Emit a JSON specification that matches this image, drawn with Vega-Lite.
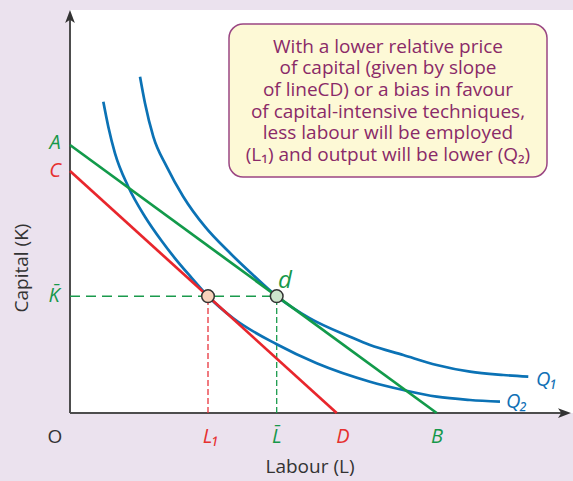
{
  "$schema": "https://vega.github.io/schema/vega-lite/v6.json",
  "width": 503,
  "height": 403,
  "autosize": "none",
  "padding": {"left": 70, "top": 10, "right": 0, "bottom": 68},
  "background": "#ebe2ee",
  "config": {
    "view": {"fill": "white", "stroke": null},
    "font": "Open Sans",
    "axis": {"disable": true}
  },
  "datasets": {
    "curves": [
      {"s": "Q1", "X": 70, "Y": 336.3}, {"s": "Q1", "X": 75, "Y": 309.7}, {"s": "Q1", "X": 83.3, "Y": 276.3},
      {"s": "Q1", "X": 96.7, "Y": 246.3}, {"s": "Q1", "X": 113.3, "Y": 216.3}, {"s": "Q1", "X": 135, "Y": 186.3},
      {"s": "Q1", "X": 161, "Y": 159}, {"s": "Q1", "X": 182, "Y": 139}, {"s": "Q1", "X": 206.7, "Y": 116.8},
      {"s": "Q1", "X": 240, "Y": 94.7}, {"s": "Q1", "X": 280, "Y": 76.3}, {"s": "Q1", "X": 300, "Y": 68},
      {"s": "Q1", "X": 333.3, "Y": 58}, {"s": "Q1", "X": 366.7, "Y": 48}, {"s": "Q1", "X": 400, "Y": 41.3},
      {"s": "Q1", "X": 433.3, "Y": 38}, {"s": "Q1", "X": 458.3, "Y": 36.3},
      {"s": "Q2", "X": 33.3, "Y": 311.3}, {"s": "Q2", "X": 38.3, "Y": 286.3}, {"s": "Q2", "X": 45, "Y": 259.7},
      {"s": "Q2", "X": 58.3, "Y": 226.3}, {"s": "Q2", "X": 75, "Y": 196.3}, {"s": "Q2", "X": 91.7, "Y": 172},
      {"s": "Q2", "X": 105, "Y": 154.7}, {"s": "Q2", "X": 120, "Y": 137}, {"s": "Q2", "X": 138, "Y": 116.8},
      {"s": "Q2", "X": 163.3, "Y": 94.7}, {"s": "Q2", "X": 206.7, "Y": 68.7}, {"s": "Q2", "X": 246.7, "Y": 49.7},
      {"s": "Q2", "X": 300, "Y": 31.3}, {"s": "Q2", "X": 333.3, "Y": 23}, {"s": "Q2", "X": 366.7, "Y": 16.3},
      {"s": "Q2", "X": 400, "Y": 13}, {"s": "Q2", "X": 430, "Y": 11.3},
      {"s": "AB", "X": 0, "Y": 268}, {"s": "AB", "X": 366.7, "Y": 0},
      {"s": "CD", "X": 0, "Y": 242}, {"s": "CD", "X": 266.7, "Y": 0}
    ],
    "guides": [
      {"g": "K", "X": 0, "Y": 116.8, "X2": 206.7, "Y2": 116.8},
      {"g": "Lbar", "X": 206.7, "Y": 0, "X2": 206.7, "Y2": 116.8},
      {"g": "L1", "X": 138, "Y": 0, "X2": 138, "Y2": 116.8}
    ],
    "axes": [
      {"X": 0, "Y": 0, "X2": 495, "Y2": 0},
      {"X": 0, "Y": 0, "X2": 0, "Y2": 397}
    ],
    "arrows": [
      {"dir": "right", "X": 494.5, "Y": 0},
      {"dir": "up", "X": 0, "Y": 396.5}
    ],
    "pts": [
      {"p": "L1", "X": 138, "Y": 116.8},
      {"p": "d", "X": 206.7, "Y": 116.8}
    ],
    "box": [
      {"X": 159, "X2": 477, "Y": 389, "Y2": 236, "t": "With a lower relative price\nof capital (given by slope\nof lineCD) or a bias in favour\nof capital-intensive techniques,\nless labour will be employed\n(L₁) and output will be lower (Q₂)", "TX": 318, "TY": 366.3}
    ],
    "labels": [
      {"t": "A", "X": -15, "Y": 270, "k": "g"},
      {"t": "K̄", "X": -16, "Y": 117, "k": "g"},
      {"t": "L̄", "X": 206.7, "Y": -24, "k": "g"},
      {"t": "B", "X": 367, "Y": -24, "k": "g"},
      {"t": "C", "X": -15, "Y": 242, "k": "r"},
      {"t": "L₁", "X": 141, "Y": -24, "k": "r"},
      {"t": "D", "X": 273, "Y": -24, "k": "r"},
      {"t": "d", "X": 215, "Y": 132, "k": "d"},
      {"t": "Q₁", "X": 466, "Y": 33, "k": "b"},
      {"t": "Q₂", "X": 436, "Y": 11, "k": "b"},
      {"t": "O", "X": -15, "Y": -24, "k": "k"},
      {"t": "Labour (L)", "X": 240, "Y": -54, "k": "k"},
      {"t": "Capital (K)", "X": -48, "Y": 145, "k": "cap"}
    ]
  },
  "encoding": {
    "x": {"field": "X", "type": "quantitative", "scale": {"domain": [0, 503], "nice": false, "zero": false}, "axis": null},
    "y": {"field": "Y", "type": "quantitative", "scale": {"domain": [0, 403], "nice": false, "zero": false}, "axis": null}
  },
  "layer": [
    {
      "data": {"name": "box"},
      "mark": {"type": "rect", "fill": "#fdf9d6", "stroke": "#9a4683", "strokeWidth": 1.5, "cornerRadius": 14},
      "encoding": {"x2": {"field": "X2"}, "y2": {"field": "Y2"}}
    },
    {
      "data": {"name": "box"},
      "mark": {"type": "text", "lineBreak": "\n", "lineHeight": 21.7, "fontSize": 19, "color": "#8a2a68", "align": "center", "baseline": "middle"},
      "encoding": {"x": {"field": "TX", "type": "quantitative"}, "y": {"field": "TY", "type": "quantitative"}, "text": {"field": "t"}}
    },
    {
      "data": {"name": "axes"},
      "mark": {"type": "rule", "color": "#4d4d4d", "strokeWidth": 2},
      "encoding": {"x2": {"field": "X2"}, "y2": {"field": "Y2"}}
    },
    {
      "data": {"name": "arrows"},
      "transform": [{"filter": "datum.dir === 'right'"}],
      "mark": {"type": "point", "shape": "M1,0L-1,-0.75L-0.5,0L-1,0.75Z", "filled": true, "color": "#333333", "size": 169, "opacity": 1}
    },
    {
      "data": {"name": "arrows"},
      "transform": [{"filter": "datum.dir === 'up'"}],
      "mark": {"type": "point", "shape": "M0,-1L-0.75,1L0,0.5L0.75,1Z", "filled": true, "color": "#333333", "size": 169, "opacity": 1}
    },
    {
      "data": {"name": "guides"},
      "transform": [{"filter": "datum.g === 'K'"}],
      "mark": {"type": "rule", "color": "#1a9a4c", "strokeWidth": 1.5, "strokeDash": [10, 6]},
      "encoding": {"x2": {"field": "X2"}, "y2": {"field": "Y2"}}
    },
    {
      "data": {"name": "guides"},
      "transform": [{"filter": "datum.g === 'Lbar'"}],
      "mark": {"type": "rule", "color": "#1a9a4c", "strokeWidth": 1.3, "strokeDash": [6, 3]},
      "encoding": {"x2": {"field": "X2"}, "y2": {"field": "Y2"}}
    },
    {
      "data": {"name": "guides"},
      "transform": [{"filter": "datum.g === 'L1'"}],
      "mark": {"type": "rule", "color": "#e8343c", "strokeWidth": 1.3, "strokeDash": [6, 3]},
      "encoding": {"x2": {"field": "X2"}, "y2": {"field": "Y2"}}
    },
    {
      "data": {"name": "curves"},
      "mark": {"type": "line", "strokeWidth": 2.7, "interpolate": "monotone"},
      "encoding": {
        "stroke": {"field": "s", "type": "nominal", "scale": {"domain": ["AB", "CD", "Q1", "Q2"], "range": ["#129a4a", "#e8262c", "#0b72b5", "#0b72b5"]}, "legend": null},
        "detail": {"field": "s"}
      }
    },
    {
      "data": {"name": "pts"},
      "mark": {"type": "point", "filled": true, "size": 160, "stroke": "#333333", "strokeWidth": 1.5, "opacity": 1},
      "encoding": {
        "fill": {"field": "p", "type": "nominal", "scale": {"domain": ["L1", "d"], "range": ["#f8d2bb", "#cde5cc"]}, "legend": null}
      }
    },
    {
      "data": {"name": "labels"},
      "transform": [{"filter": "datum.k === 'g'"}],
      "mark": {"type": "text", "fontSize": 20, "fontStyle": "italic", "color": "#16984a"},
      "encoding": {"text": {"field": "t"}}
    },
    {
      "data": {"name": "labels"},
      "transform": [{"filter": "datum.k === 'r'"}],
      "mark": {"type": "text", "fontSize": 20, "fontStyle": "italic", "color": "#e6302f"},
      "encoding": {"text": {"field": "t"}}
    },
    {
      "data": {"name": "labels"},
      "transform": [{"filter": "datum.k === 'd'"}],
      "mark": {"type": "text", "fontSize": 24, "fontStyle": "italic", "color": "#16984a"},
      "encoding": {"text": {"field": "t"}}
    },
    {
      "data": {"name": "labels"},
      "transform": [{"filter": "datum.k === 'b'"}],
      "mark": {"type": "text", "fontSize": 20, "fontStyle": "italic", "color": "#1170b5", "align": "left"},
      "encoding": {"text": {"field": "t"}}
    },
    {
      "data": {"name": "labels"},
      "transform": [{"filter": "datum.k === 'k'"}],
      "mark": {"type": "text", "fontSize": 19, "color": "#333333"},
      "encoding": {"text": {"field": "t"}}
    },
    {
      "data": {"name": "labels"},
      "transform": [{"filter": "datum.k === 'cap'"}],
      "mark": {"type": "text", "fontSize": 19, "color": "#333333", "angle": 270},
      "encoding": {"text": {"field": "t"}}
    }
  ]
}
